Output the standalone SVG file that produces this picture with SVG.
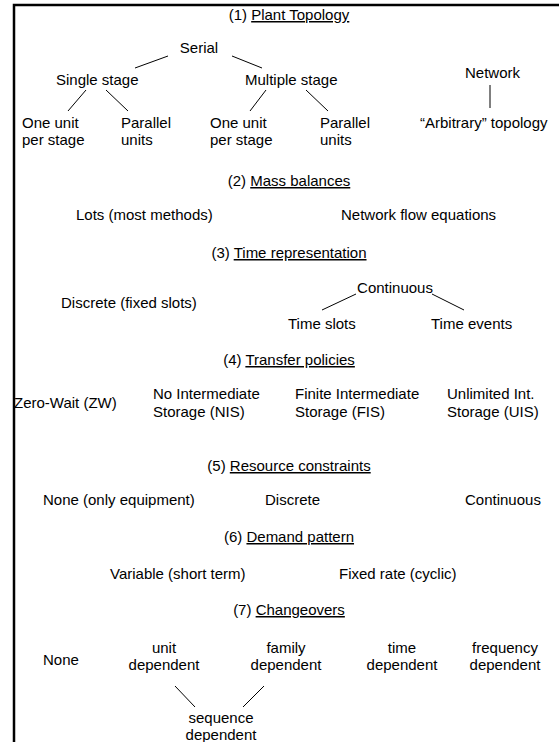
<svg xmlns="http://www.w3.org/2000/svg" width="559" height="742" viewBox="0 0 559 742">
<style>
text{font-family:"Liberation Sans",Arial,sans-serif;font-size:15px;fill:#000}
.c{text-anchor:middle}
.u{text-decoration:underline}
.ln{stroke:#000;stroke-width:1;fill:none}
</style>
<rect width="559" height="742" fill="#fff"/>
<path d="M14,742 V5 H559" stroke="#000" stroke-width="2.5" fill="none"/>
<g id="h1"><text class="c" x="289" y="20">(1) <tspan class="u">Plant Topology</tspan></text></g>
<g id="serial"><text class="c" x="199" y="53">Serial</text></g>
<g id="single"><text x="56" y="85">Single stage</text></g>
<g id="multiple"><text x="245" y="85">Multiple stage</text></g>
<g id="network"><text x="465" y="78">Network</text></g>
<g id="one1"><text x="22" y="128">One unit</text><text x="22" y="145">per stage</text></g>
<g id="par1"><text x="121" y="128">Parallel</text><text x="121" y="145">units</text></g>
<g id="one2"><text x="210" y="128">One unit</text><text x="210" y="145">per stage</text></g>
<g id="par2"><text x="320" y="128">Parallel</text><text x="320" y="145">units</text></g>
<g id="arb"><text x="420" y="128">“Arbitrary” topology</text></g>
<g id="h2"><text class="c" x="289" y="186">(2) <tspan class="u">Mass balances</tspan></text></g>
<g id="lots"><text x="76" y="220">Lots (most methods)</text></g>
<g id="nfe"><text x="341" y="220">Network flow equations</text></g>
<g id="h3"><text class="c" x="289" y="258">(3) <tspan class="u">Time representation</tspan></text></g>
<g id="cont"><text class="c" x="395" y="293">Continuous</text></g>
<g id="disc"><text x="61" y="308">Discrete (fixed slots)</text></g>
<g id="tslots"><text x="288" y="329">Time slots</text></g>
<g id="tevents"><text x="431" y="329">Time events</text></g>
<g id="h4"><text class="c" x="289" y="365">(4) <tspan class="u">Transfer policies</tspan></text></g>
<g id="zw"><text x="14" y="408">Zero-Wait (ZW)</text></g>
<g id="nis"><text x="153" y="399">No Intermediate</text><text x="153" y="417">Storage (NIS)</text></g>
<g id="fis"><text x="295" y="399">Finite Intermediate</text><text x="295" y="417">Storage (FIS)</text></g>
<g id="uis"><text x="447" y="399">Unlimited Int.</text><text x="447" y="417">Storage (UIS)</text></g>
<g id="h5"><text class="c" x="289" y="471">(5) <tspan class="u">Resource constraints</tspan></text></g>
<g id="none5"><text x="43" y="505">None (only equipment)</text></g>
<g id="disc5"><text x="265" y="505">Discrete</text></g>
<g id="cont5"><text x="465" y="505">Continuous</text></g>
<g id="h6"><text class="c" x="289" y="542">(6) <tspan class="u">Demand pattern</tspan></text></g>
<g id="var"><text x="110" y="579">Variable (short term)</text></g>
<g id="fixed"><text x="339" y="579">Fixed rate (cyclic)</text></g>
<g id="h7"><text class="c" x="289" y="615">(7) <tspan class="u">Changeovers</tspan></text></g>
<g id="none7"><text x="43" y="665">None</text></g>
<g id="unit"><text class="c" x="164" y="653">unit</text><text class="c" x="164" y="670">dependent</text></g>
<g id="family"><text class="c" x="286" y="653">family</text><text class="c" x="286" y="670">dependent</text></g>
<g id="time"><text class="c" x="402" y="653">time</text><text class="c" x="402" y="670">dependent</text></g>
<g id="freq"><text class="c" x="505" y="653">frequency</text><text class="c" x="505" y="670">dependent</text></g>
<g id="seq"><text class="c" x="221" y="723">sequence</text><text class="c" x="221" y="740">dependent</text></g>
<g id="connectors" class="ln">
<line x1="135" y1="68" x2="168" y2="56"/>
<line x1="232" y1="56" x2="262" y2="68"/>
<line x1="86" y1="90" x2="68" y2="111"/>
<line x1="106" y1="90" x2="128" y2="111"/>
<line x1="266" y1="90" x2="250" y2="111"/>
<line x1="306" y1="90" x2="328" y2="111"/>
<line x1="490" y1="85" x2="490" y2="108"/>
<line x1="356" y1="294" x2="322" y2="310"/>
<line x1="432" y1="294" x2="464" y2="310"/>
<line x1="175" y1="686" x2="195" y2="707"/>
<line x1="264" y1="686" x2="243" y2="707"/>
</g>
</svg>
